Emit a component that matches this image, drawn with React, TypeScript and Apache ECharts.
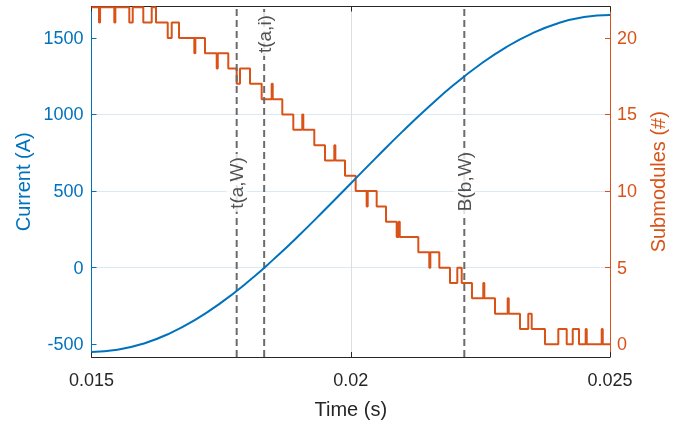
import React, { useEffect, useRef } from 'react';
import * as echarts from 'echarts';

// Current (A) sampled along time (s)
const currentTimes = [
  0.015, 0.0155, 0.016, 0.0165, 0.017, 0.0175, 0.018, 0.0185, 0.019, 0.0195, 0.02,
  0.0205, 0.021, 0.0215, 0.022, 0.0225, 0.023, 0.0235, 0.024, 0.0245, 0.025,
];
const currentValues = [
  -550, -536, -496, -430, -340, -228, -97, 51, 210, 378, 550,
  722, 890, 1049, 1197, 1328, 1440, 1530, 1596, 1636, 1650,
];

// Submodules (#) staircase: switching times and levels (held until next time)
const stepTimes = [
  0.015,
  0.015145, 0.015165, 0.01544, 0.01546, 0.015729, 0.015795, 0.015999, 0.016161,
  0.016244, 0.01647, 0.016547, 0.016688, 0.016983, 0.017003, 0.017189,
  0.017415, 0.017435, 0.017638, 0.0178, 0.017864, 0.018057, 0.018282,
  0.018475, 0.018495, 0.01868, 0.018892, 0.019065, 0.019085, 0.019297,
  0.019503, 0.019683, 0.019703, 0.019889, 0.020095, 0.020307, 0.020327,
  0.0205, 0.02068, 0.020886, 0.020925, 0.020945, 0.021303, 0.021515, 0.021535,
  0.021708, 0.021914, 0.022055, 0.02214, 0.022338, 0.022556, 0.022576,
  0.022782, 0.023027, 0.023047, 0.023264, 0.023424, 0.02349, 0.023746,
  0.024003, 0.024165, 0.024281, 0.024402, 0.024531, 0.024551, 0.02484, 0.02486,
  0.025,
];
const stepLevels = [
  22,
  21, 22, 21, 22, 21, 22, 21, 22,
  21, 20, 21, 20, 19, 20, 19,
  18, 19, 18, 17, 18, 17, 16,
  17, 16, 15, 14, 15, 14, 13,
  12, 13, 12, 11, 10, 9, 10,
  9, 8, 7, 8, 7, 6, 5, 6,
  5, 4, 5, 4, 3, 4, 3,
  2, 3, 2, 1, 2, 1, 0,
  1, 0, 1, 0, 1, 0, 1, 0,
  0,
];

// Vertical event markers
const markerTimes = [0.0178, 0.01833, 0.02219];
const markerNames = ['t(a,W)', 't(a,i)', 'B(b,W)'];
const markerLabelY = [553, 1525, 562];

// Axis ranges and tick labels
const currentRange = [-583, 1705];
const submoduleRange = [-0.83, 22.05];
const currentTicks = [-500, 0, 500, 1000, 1500];
const submoduleTicks = [0, 5, 10, 15, 20];

export default function App() {
  const ref = useRef<HTMLDivElement>(null);
  useEffect(() => {
    const chart = echarts.init(ref.current!, null, { renderer: 'svg' });
    const font = "'Liberation Sans', Arial, Helvetica, sans-serif";
    const blue = '#0072BD';
    const orange = '#D95319';
    const dark = '#262626';
    const markerSeries = markerTimes.map((t) => ({
      type: 'line', xAxisIndex: 0, yAxisIndex: 0, silent: true, z: 5,
      data: [[t, currentRange[0]], [t, currentRange[1]]],
      showSymbol: false, symbol: 'none',
      lineStyle: { color: '#6b6b6b', type: [7, 4], width: 2 },
    }));
    chart.setOption({
      animation: false,
      textStyle: { fontFamily: font },
      grid: { left: 91.5, right: 78, top: 6.5, bottom: 68, outerBoundsMode: 'none' },
      xAxis: [
        {
          type: 'value', min: 0.015, max: 0.025, interval: 0.005, position: 'bottom',
          axisLine: { show: true, onZero: false, lineStyle: { color: dark, width: 1 } },
          axisTick: { show: true, inside: true, length: 5, lineStyle: { color: dark } },
          axisLabel: {
            color: dark, fontSize: 18, fontFamily: font, margin: 14,
            formatter: (v: number) => String(Number(v.toFixed(4))),
          },
          splitLine: { show: true, showMinLine: false, showMaxLine: false, lineStyle: { color: '#dedede', width: 1 } },
          name: 'Time (s)', nameLocation: 'middle', nameGap: 42,
          nameTextStyle: { color: dark, fontSize: 20, fontFamily: font },
        },
        {
          type: 'value', min: 0.015, max: 0.025, interval: 0.005, position: 'top',
          axisLine: { show: true, onZero: false, lineStyle: { color: dark, width: 1 } },
          axisTick: { show: true, inside: true, length: 5, lineStyle: { color: dark } },
          axisLabel: { show: false },
          splitLine: { show: false },
        },
      ],
      yAxis: [
        {
          type: 'value', min: currentRange[0], max: currentRange[1], position: 'left',
          axisLine: { show: true, onZero: false, lineStyle: { color: blue, width: 1 } },
          axisTick: { show: true, inside: true, length: 5, lineStyle: { color: blue }, customValues: currentTicks },
          axisLabel: {
            color: blue, fontSize: 18, fontFamily: font, margin: 8, customValues: currentTicks,
            formatter: (v: number) => String(v),
          },
          splitLine: { show: true, showMinLine: false, showMaxLine: false, lineStyle: { color: '#d9eaf5', width: 1 } },
          name: 'Current (A)', nameLocation: 'middle', nameGap: 59, nameRotate: 90,
          nameTextStyle: { color: blue, fontSize: 20, fontFamily: font },
        },
        {
          type: 'value', min: submoduleRange[0], max: submoduleRange[1], position: 'right',
          axisLine: { show: true, onZero: false, lineStyle: { color: orange, width: 1 } },
          axisTick: { show: true, inside: true, length: 5, lineStyle: { color: orange }, customValues: submoduleTicks },
          axisLabel: {
            color: orange, fontSize: 18, fontFamily: font, margin: 7, customValues: submoduleTicks,
            formatter: (v: number) => String(v),
          },
          splitLine: { show: false },
          name: 'Submodules (#)', nameLocation: 'middle', nameGap: 30, nameRotate: 90,
          nameTextStyle: { color: orange, fontSize: 20, fontFamily: font },
        },
      ],
      series: [
        {
          type: 'line', name: 'Submodules', xAxisIndex: 0, yAxisIndex: 1,
          data: stepTimes.map((t, i) => [t, stepLevels[i]]),
          step: 'end', showSymbol: false, symbol: 'none',
          lineStyle: { color: orange, width: 2 }, itemStyle: { color: orange },
          z: 3,
        },
        ...markerSeries,
        {
          type: 'line', name: 'Current', xAxisIndex: 0, yAxisIndex: 0,
          data: currentTimes.map((t, i) => [t, currentValues[i]]),
          smooth: true, showSymbol: false, symbol: 'none',
          lineStyle: { color: blue, width: 2 }, itemStyle: { color: blue },
          z: 6,
        },
        {
          type: 'scatter', xAxisIndex: 0, yAxisIndex: 0, symbolSize: 0, silent: true, z: 10,
          data: markerNames.map((n, i) => ({ name: n, value: [markerTimes[i], markerLabelY[i]] })),
          label: {
            show: true, position: 'inside', rotate: 90, formatter: '{b}',
            color: dark, fontSize: 19, fontFamily: font,
            backgroundColor: '#fff', padding: [1, 3],
          },
        },
      ],
    });
    return () => chart.dispose();
  }, []);
  return <div ref={ref} style={{ position: 'fixed', left: 0, top: 0, width: 688, height: 425 }} />;
}
